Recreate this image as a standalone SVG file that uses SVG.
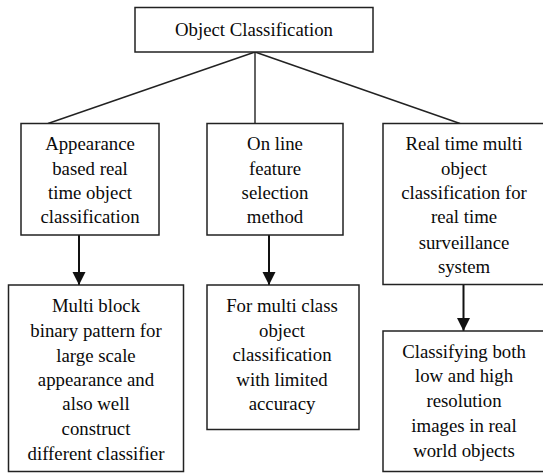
<svg xmlns="http://www.w3.org/2000/svg" width="543" height="473" viewBox="0 0 543 473">
<style>
  .box { fill: #ffffff; stroke: #222222; stroke-width: 1.5; }
  .lbl { font-family: "Liberation Serif", "Times New Roman", serif; font-size: 18.8px; fill: #0a0a0a; text-anchor: middle; }
  .ln { stroke: #222222; stroke-width: 1.4; fill: none; }
  .arr { stroke: #111111; stroke-width: 2; fill: none; marker-end: url(#ah); }
</style>
<defs>
  <marker id="ah" markerUnits="userSpaceOnUse" markerWidth="14" markerHeight="14" viewBox="0 0 14 14" refX="13" refY="7" orient="auto">
    <path d="M0,0.5 L13,7 L0,13.5 Z" fill="#111111"/>
  </marker>
</defs>
<rect width="543" height="473" fill="#ffffff"/>
<g id="connectors">
  <line class="ln" x1="255" y1="52" x2="48" y2="123.5"/>
  <line class="ln" x1="255" y1="52" x2="255" y2="123.5"/>
  <line class="ln" x1="255" y1="52" x2="460" y2="123.5"/>
  <line class="arr" x1="79" y1="235" x2="79" y2="285"/>
  <line class="arr" x1="269" y1="235" x2="269" y2="285"/>
  <line class="arr" x1="463.5" y1="284.5" x2="463.5" y2="331"/>
</g>
<g id="root">
  <rect class="box" x="135" y="7.5" width="238" height="44.5"/>
  <text class="lbl" x="254" y="36">Object Classification</text>
</g>
<g id="appearance">
  <rect class="box" x="21" y="123.5" width="138" height="111.5"/>
  <text class="lbl" x="90" y="150">Appearance</text>
  <text class="lbl" x="90" y="175">based real</text>
  <text class="lbl" x="90" y="199">time object</text>
  <text class="lbl" x="90" y="223">classification</text>
</g>
<g id="online">
  <rect class="box" x="207" y="123.5" width="136" height="111.5"/>
  <text class="lbl" x="275" y="150">On line</text>
  <text class="lbl" x="275" y="175">feature</text>
  <text class="lbl" x="275" y="199">selection</text>
  <text class="lbl" x="275" y="223">method</text>
</g>
<g id="realtime">
  <rect class="box" x="383" y="123.5" width="165" height="161"/>
  <text class="lbl" x="464" y="150">Real time multi</text>
  <text class="lbl" x="464" y="175">object</text>
  <text class="lbl" x="464" y="199">classification for</text>
  <text class="lbl" x="464" y="223">real time</text>
  <text class="lbl" x="464" y="249">surveillance</text>
  <text class="lbl" x="464" y="273">system</text>
</g>
<g id="multiblock">
  <rect class="box" x="8.5" y="285" width="175" height="186.5"/>
  <text class="lbl" x="96" y="311.5">Multi block</text>
  <text class="lbl" x="96" y="336.5">binary pattern for</text>
  <text class="lbl" x="96" y="361.5">large scale</text>
  <text class="lbl" x="96" y="385.5">appearance and</text>
  <text class="lbl" x="96" y="410">also well</text>
  <text class="lbl" x="96" y="435">construct</text>
  <text class="lbl" x="96" y="460">different classifier</text>
</g>
<g id="multiclass">
  <rect class="box" x="207" y="285" width="152" height="144.5"/>
  <text class="lbl" x="282" y="311.5">For multi class</text>
  <text class="lbl" x="282" y="336.5">object</text>
  <text class="lbl" x="282" y="361">classification</text>
  <text class="lbl" x="282" y="386">with limited</text>
  <text class="lbl" x="282" y="410">accuracy</text>
</g>
<g id="classifying">
  <rect class="box" x="383" y="331" width="165" height="140.5"/>
  <text class="lbl" x="464" y="358">Classifying both</text>
  <text class="lbl" x="464" y="382">low and high</text>
  <text class="lbl" x="464" y="407">resolution</text>
  <text class="lbl" x="464" y="432">images in real</text>
  <text class="lbl" x="464" y="457">world objects</text>
</g>
</svg>
